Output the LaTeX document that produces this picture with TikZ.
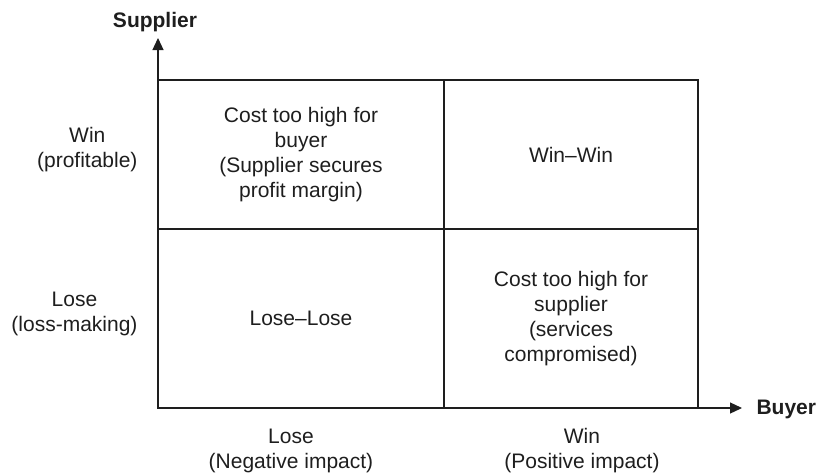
\documentclass[tikz,border=0pt]{standalone}
\usepackage{fontspec}
\setmainfont{Liberation Sans}
\usepackage{tikz}
\usetikzlibrary{arrows.meta, positioning}
\definecolor{inkcolor}{HTML}{1E1E1E}

\begin{document}
\begin{tikzpicture}[
    x=1pt, y=-1pt,
    cell/.style={rectangle, draw=inkcolor, line width=1.2pt, inner sep=0pt, outer sep=0pt,
                 align=center, text=inkcolor, font=\fontsize{21}{25}\selectfont},
    axistext/.style={align=center, text=inkcolor, font=\fontsize{21}{25}\selectfont},
    axistitle/.style={text=inkcolor, font=\fontsize{21}{25}\selectfont\bfseries},
    axis/.style={-{Triangle[length=12pt, width=11pt]}, line width=1.2pt, draw=inkcolor}
]
    \useasboundingbox (0,0) rectangle (818,474);

    % quadrants
    \node[cell, minimum width=286pt, minimum height=179pt] (loselose) at (301,318.5) {Lose--Lose};
    \node[cell, minimum width=254pt, minimum height=179pt, right=0pt of loselose] (costsupplier)
        {Cost too high for\\supplier\\(services\\compromised)};
    \node[cell, minimum width=286pt, minimum height=149pt, above=0pt of loselose] (costbuyer)
        {Cost too high for\\buyer\\(Supplier secures\\profit margin)};
    \node[cell, minimum width=254pt, minimum height=149pt, right=0pt of costbuyer] (winwin) {Win--Win};

    % axes
    \coordinate (ytip) at (158,38);
    \coordinate (xtip) at (742,408);
    \draw[axis] (loselose.south west) -- (ytip);
    \draw[axis] (loselose.south west) -- (xtip);

    \node[axistitle] (supplier) at (155,22) {Supplier};
    \node[axistitle, anchor=west] (buyer) at (753,409) {Buyer};

    \node[axistext, anchor=east] (winrow) at (141,150) {Win\\(profitable)};
    \node[axistext, anchor=east] (loserow) at (141,314) {Lose\\(loss-making)};
    \node[axistext] (losecol) at (291,451) {Lose\\(Negative impact)};
    \node[axistext] (wincol) at (582,451) {Win\\(Positive impact)};

\end{tikzpicture}
\end{document}
